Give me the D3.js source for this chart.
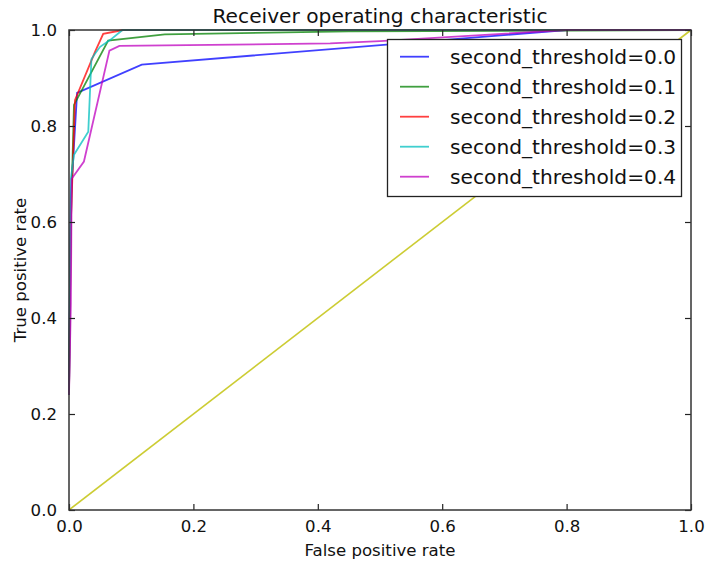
<!DOCTYPE html>
<html>
<head>
<meta charset="utf-8">
<script src="https://cdn.jsdelivr.net/npm/d3@7"></script>
<style>
  html, body { margin: 0; padding: 0; background: #fff; }
  svg { display: block; font-family: "DejaVu Sans", sans-serif; }
</style>
</head>
<body>
<svg id="chart" width="707" height="565"></svg>
<script>
// ROC curves for each second-stage threshold
const seriesNames = ["second_threshold=0.0", "second_threshold=0.1", "second_threshold=0.2",
                     "second_threshold=0.3", "second_threshold=0.4"];
const seriesColors = ["#0000ff", "#008000", "#ff0000", "#00bfbf", "#bf00bf"];

const fpr0 = [0, 0.002, 0.003, 0.013, 0.117, 0.8, 1.0];
const tpr0 = [0.24, 0.55, 0.65, 0.869, 0.928, 1.0, 1.0];

const fpr1 = [0, 0.003, 0.008, 0.063, 0.154, 0.45, 1.0];
const tpr1 = [0.24, 0.6, 0.844, 0.978, 0.991, 0.997, 1.0];

const fpr2 = [0, 0.003, 0.0096, 0.042, 0.055, 0.087, 1.0];
const tpr2 = [0.24, 0.6, 0.854, 0.955, 0.992, 1.0, 1.0];

const fpr3 = [0, 0.003, 0.008, 0.031, 0.036, 0.042, 0.05, 0.067, 0.086, 1.0];
const tpr3 = [0.24, 0.69, 0.74, 0.788, 0.939, 0.951, 0.965, 0.98, 1.0, 1.0];

const fpr4 = [0, 0.003, 0.0043, 0.024, 0.065, 0.081, 0.42, 0.5, 0.8, 1.0];
const tpr4 = [0.24, 0.43, 0.69, 0.726, 0.957, 0.967, 0.972, 0.977, 1.0, 1.0];

// chance line
const chanceX = [0, 1];
const chanceY = [0, 1];

const xTicks = [0, 0.2, 0.4, 0.6, 0.8, 1.0];
const yTicks = [0, 0.2, 0.4, 0.6, 0.8, 1.0];

const fprs = [fpr0, fpr1, fpr2, fpr3, fpr4];
const tprs = [tpr0, tpr1, tpr2, tpr3, tpr4];

const svg = d3.select("#chart");
const mLeft = 69, mRight = 691, mTop = 30, mBottom = 510;

const x = d3.scaleLinear().domain([0, 1]).range([mLeft, mRight]);
const y = d3.scaleLinear().domain([0, 1]).range([mBottom, mTop]);

const line = d3.line().x(d => x(d[0])).y(d => y(d[1]));

const plot = svg.append("g");

// diagonal reference
plot.append("path")
  .datum(d3.zip(chanceX, chanceY))
  .attr("d", line)
  .attr("fill", "none")
  .attr("stroke", "#bfbf00")
  .attr("stroke-width", 1.6)
  .attr("stroke-opacity", 0.8);

seriesNames.forEach((name, i) => {
  plot.append("path")
    .datum(d3.zip(fprs[i], tprs[i]))
    .attr("d", line)
    .attr("fill", "none")
    .attr("stroke", seriesColors[i])
    .attr("stroke-width", 1.8)
    .attr("stroke-opacity", 0.75)
    .attr("stroke-linejoin", "miter");
});

// axes with inward ticks on all four sides
const fmt = d3.format(".1f");
const tickLen = 6;

const xb = svg.append("g").attr("transform", `translate(0,${mBottom})`)
  .call(d3.axisBottom(x).tickValues(xTicks).tickFormat(fmt).tickSizeInner(-tickLen).tickSizeOuter(0).tickPadding(10));
const xt = svg.append("g").attr("transform", `translate(0,${mTop})`)
  .call(d3.axisTop(x).tickValues(xTicks).tickFormat("").tickSizeInner(-tickLen).tickSizeOuter(0));
const yl = svg.append("g").attr("transform", `translate(${mLeft},0)`)
  .call(d3.axisLeft(y).tickValues(yTicks).tickFormat(fmt).tickSizeInner(-tickLen).tickSizeOuter(0).tickPadding(12));
const yr = svg.append("g").attr("transform", `translate(${mRight},0)`)
  .call(d3.axisRight(y).tickValues(yTicks).tickFormat("").tickSizeInner(-tickLen).tickSizeOuter(0));

[xb, xt, yl, yr].forEach(g => {
  g.select(".domain").remove();
  g.selectAll(".tick line").attr("stroke", "#222").attr("stroke-width", 1.2);
  g.selectAll(".tick text").attr("fill", "#111").style("font-size", "16.6px")
    .style("font-family", "'DejaVu Sans', sans-serif");
});

// frame
svg.append("rect")
  .attr("x", mLeft).attr("y", mTop)
  .attr("width", mRight - mLeft).attr("height", mBottom - mTop)
  .attr("fill", "none").attr("stroke", "#333").attr("stroke-width", 1.5);

// title and axis labels
svg.append("text")
  .attr("x", (mLeft + mRight) / 2).attr("y", 23)
  .attr("text-anchor", "middle")
  .attr("fill", "#111")
  .style("font-size", "20.2px")
  .text("Receiver operating characteristic");

svg.append("text")
  .attr("x", (mLeft + mRight) / 2).attr("y", 556)
  .attr("text-anchor", "middle")
  .attr("fill", "#111")
  .style("font-size", "16.6px")
  .text("False positive rate");

svg.append("text")
  .attr("transform", `translate(26,${(mTop + mBottom) / 2}) rotate(-90)`)
  .attr("text-anchor", "middle")
  .attr("fill", "#111")
  .style("font-size", "16.6px")
  .text("True positive rate");

// legend
const lg = svg.append("g");
lg.append("rect")
  .attr("x", 387.5).attr("y", 39.5)
  .attr("width", 294).attr("height", 157)
  .attr("fill", "#fff").attr("stroke", "#222").attr("stroke-width", 1.3);

seriesNames.forEach((name, i) => {
  const cy = 56.7 + i * 30;
  lg.append("line")
    .attr("x1", 400).attr("x2", 429)
    .attr("y1", cy).attr("y2", cy)
    .attr("stroke", seriesColors[i])
    .attr("stroke-width", 1.8)
    .attr("stroke-opacity", 0.75);
  lg.append("text")
    .attr("x", 450).attr("y", cy)
    .attr("dy", "0.35em")
    .attr("fill", "#111")
    .style("font-size", "20.2px")
    .text(name);
});
</script>
</body>
</html>
